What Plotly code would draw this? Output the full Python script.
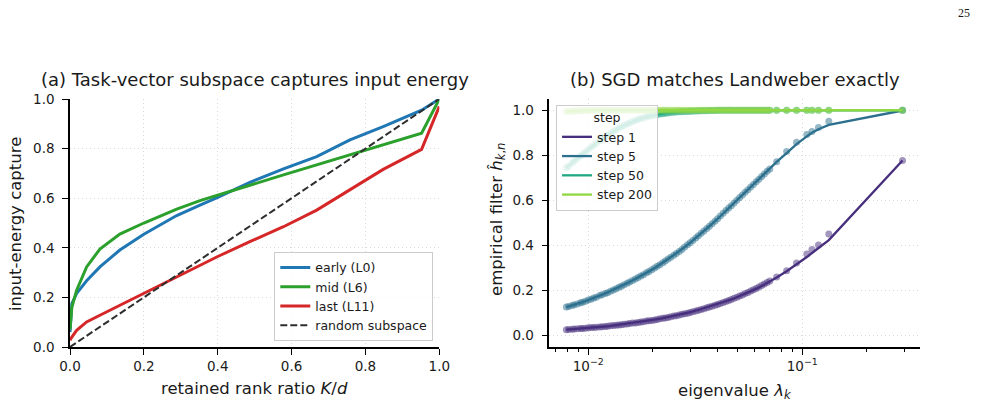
import plotly.graph_objects as go

# ---------------- Panel (a) data ----------------
rank_ratio = [0.0, 0.005, 0.018, 0.045, 0.081, 0.135, 0.2, 0.289, 0.352, 0.4,
              0.487, 0.578, 0.668, 0.758, 0.848, 0.952, 1.0]
early_L0 = [0.06, 0.175, 0.216, 0.267, 0.323, 0.391, 0.455, 0.53, 0.572, 0.603,
            0.664, 0.718, 0.768, 0.835, 0.889, 0.955, 1.0]
mid_L6 = [0.07, 0.16, 0.229, 0.323, 0.395, 0.455, 0.5, 0.556, 0.59, 0.613,
          0.652, 0.694, 0.734, 0.773, 0.813, 0.862, 1.0]
last_L11 = [0.027, 0.04, 0.067, 0.101, 0.128, 0.168, 0.215, 0.28, 0.328, 0.365,
            0.425, 0.485, 0.552, 0.633, 0.716, 0.797, 0.97]
random_x = [0.0, 1.0]
random_y = [0.0, 1.0]

# ---------------- Panel (b) data ----------------
step_labels = ["step 1", "step 5", "step 50", "step 200"]

# Landweber (theory) curves
eigenvalues = [0.0079, 0.0082, 0.0086, 0.0090, 0.0094, 0.0098, 0.0103, 0.0108, 0.0113, 0.0119,
               0.0125, 0.0132, 0.0139, 0.0147, 0.0155, 0.0164, 0.0174, 0.0184, 0.0195, 0.0207,
               0.0220, 0.0234, 0.0249, 0.0265, 0.0282, 0.0300, 0.0320, 0.0341, 0.0364, 0.0388,
               0.0414, 0.0442, 0.0472, 0.0504, 0.0538, 0.0575, 0.0615, 0.0660, 0.0700, 0.0759,
               0.0845, 0.0940, 0.1050, 0.1110, 0.1190, 0.1330, 0.2940]
landweber_step1 = [0.027, 0.028, 0.030, 0.031, 0.032, 0.034, 0.035, 0.037, 0.039, 0.041,
                   0.043, 0.046, 0.048, 0.051, 0.054, 0.057, 0.061, 0.064, 0.068, 0.073,
                   0.077, 0.082, 0.088, 0.093, 0.099, 0.105, 0.112, 0.120, 0.127, 0.135,
                   0.144, 0.153, 0.163, 0.174, 0.185, 0.197, 0.210, 0.225, 0.238, 0.258,
                   0.286, 0.316, 0.349, 0.367, 0.390, 0.424, 0.777]
landweber_step5 = [0.127, 0.131, 0.137, 0.143, 0.149, 0.155, 0.162, 0.170, 0.178, 0.186,
                   0.195, 0.205, 0.215, 0.226, 0.237, 0.249, 0.262, 0.275, 0.289, 0.304,
                   0.320, 0.338, 0.356, 0.374, 0.393, 0.413, 0.436, 0.458, 0.481, 0.505,
                   0.530, 0.556, 0.582, 0.608, 0.634, 0.661, 0.689, 0.717, 0.740, 0.771,
                   0.810, 0.850, 0.884, 0.900, 0.916, 0.935, 0.999]
landweber_step50 = [0.744, 0.758, 0.774, 0.790, 0.805, 0.819, 0.836, 0.851, 0.865, 0.880,
                    0.894, 0.908, 0.921, 0.933, 0.943, 0.953, 0.962, 0.969, 0.975, 0.980,
                    0.985, 0.988, 0.991, 0.993, 0.995, 0.996, 0.997, 0.998, 0.999, 0.999,
                    1.0, 1.0, 1.0, 1.0, 1.0, 1.0, 1.0, 1.0, 1.0, 1.0,
                    1.0, 1.0, 1.0, 1.0, 1.0, 1.0, 1.0]
landweber_step200 = [0.995, 0.996, 0.997, 0.998, 0.998, 0.999, 1.0, 1.0, 1.0, 1.0,
                     1.0, 1.0, 1.0, 1.0, 1.0, 1.0, 1.0, 1.0, 1.0, 1.0,
                     1.0, 1.0, 1.0, 1.0, 1.0, 1.0, 1.0, 1.0, 1.0, 1.0,
                     1.0, 1.0, 1.0, 1.0, 1.0, 1.0, 1.0, 1.0, 1.0, 1.0,
                     1.0, 1.0, 1.0, 1.0, 1.0, 1.0, 1.0]

# SGD (empirical) points
eigenvalues_sgd = [0.0079, 0.0081, 0.0084, 0.0086, 0.0089, 0.0092, 0.0094, 0.0097, 0.0100, 0.0103,
                   0.0106, 0.0109, 0.0113, 0.0116, 0.0120, 0.0123, 0.0127, 0.0131, 0.0135, 0.0139,
                   0.0143, 0.0147, 0.0152, 0.0156, 0.0161, 0.0166, 0.0171, 0.0176, 0.0181, 0.0187,
                   0.0192, 0.0198, 0.0204, 0.0210, 0.0216, 0.0223, 0.0229, 0.0236, 0.0243, 0.0251,
                   0.0258, 0.0266, 0.0274, 0.0282, 0.0291, 0.0299, 0.0308, 0.0318, 0.0327, 0.0337,
                   0.0347, 0.0358, 0.0368, 0.0379, 0.0391, 0.0402, 0.0414, 0.0427, 0.0440, 0.0453,
                   0.0466, 0.0480, 0.0495, 0.0510, 0.0525, 0.0541, 0.0557, 0.0574, 0.0591, 0.0609,
                   0.0627, 0.0646, 0.0665, 0.0685, 0.0705, 0.0759, 0.0845, 0.0940, 0.1050, 0.1110,
                   0.1190, 0.1330, 0.2940]
sgd_step1 = [0.027, 0.028, 0.029, 0.030, 0.031, 0.032, 0.032, 0.033, 0.035, 0.036,
             0.037, 0.038, 0.039, 0.040, 0.041, 0.042, 0.044, 0.045, 0.047, 0.048,
             0.049, 0.051, 0.052, 0.054, 0.056, 0.057, 0.059, 0.061, 0.062, 0.065,
             0.066, 0.068, 0.070, 0.072, 0.075, 0.077, 0.079, 0.081, 0.084, 0.087,
             0.089, 0.092, 0.095, 0.097, 0.100, 0.103, 0.106, 0.110, 0.113, 0.116,
             0.120, 0.124, 0.127, 0.131, 0.135, 0.139, 0.143, 0.147, 0.152, 0.156,
             0.161, 0.166, 0.171, 0.176, 0.181, 0.187, 0.192, 0.198, 0.204, 0.210,
             0.216, 0.223, 0.229, 0.236, 0.243, 0.261, 0.288, 0.323, 0.362, 0.383,
             0.402, 0.451, 0.777]
sgd_step5 = [0.127, 0.130, 0.134, 0.137, 0.141, 0.146, 0.149, 0.153, 0.158, 0.162,
             0.167, 0.171, 0.178, 0.182, 0.187, 0.191, 0.197, 0.203, 0.208, 0.215,
             0.220, 0.226, 0.233, 0.238, 0.245, 0.252, 0.258, 0.265, 0.271, 0.279,
             0.285, 0.293, 0.300, 0.308, 0.315, 0.324, 0.331, 0.340, 0.348, 0.357,
             0.365, 0.374, 0.383, 0.393, 0.403, 0.412, 0.422, 0.434, 0.444, 0.454,
             0.464, 0.476, 0.486, 0.497, 0.508, 0.519, 0.531, 0.543, 0.555, 0.566,
             0.577, 0.589, 0.601, 0.613, 0.624, 0.636, 0.648, 0.660, 0.671, 0.683,
             0.694, 0.706, 0.717, 0.729, 0.740, 0.772, 0.817, 0.858, 0.892, 0.906,
             0.924, 0.951, 1.000]
sgd_step50 = [0.744, 0.753, 0.766, 0.774, 0.786, 0.797, 0.805, 0.815, 0.826, 0.836,
              0.845, 0.854, 0.865, 0.872, 0.882, 0.889, 0.897, 0.906, 0.913, 0.921,
              0.927, 0.933, 0.939, 0.944, 0.950, 0.955, 0.959, 0.963, 0.966, 0.970,
              0.973, 0.976, 0.979, 0.981, 0.983, 0.985, 0.987, 0.988, 0.990, 0.991,
              0.992, 0.993, 0.994, 0.995, 0.995, 0.996, 0.996, 0.997, 0.997, 0.998,
              0.998, 0.998, 0.999, 0.999, 0.999, 1.0, 1.0, 1.0, 1.0, 1.0,
              1.0, 1.0, 1.0, 1.0, 1.0, 1.0, 1.0, 1.0, 1.0, 1.0,
              1.0, 1.0, 1.0, 1.0, 1.0, 1.0, 1.0, 1.0, 1.0, 1.0,
              1.0, 1.0, 1.0]
sgd_step200 = [0.995, 0.996, 0.996, 0.997, 0.998, 0.998, 0.998, 0.999, 0.999, 0.999,
               1.0, 1.0, 1.0, 1.0, 1.0, 1.0, 1.0, 1.0, 1.0, 1.0,
               1.0, 1.0, 1.0, 1.0, 1.0, 1.0, 1.0, 1.0, 1.0, 1.0,
               1.0, 1.0, 1.0, 1.0, 1.0, 1.0, 1.0, 1.0, 1.0, 1.0,
               1.0, 1.0, 1.0, 1.0, 1.0, 1.0, 1.0, 1.0, 1.0, 1.0,
               1.0, 1.0, 1.0, 1.0, 1.0, 1.0, 1.0, 1.0, 1.0, 1.0,
               1.0, 1.0, 1.0, 1.0, 1.0, 1.0, 1.0, 1.0, 1.0, 1.0,
               1.0, 1.0, 1.0, 1.0, 1.0, 1.0, 1.0, 1.0, 1.0, 1.0,
               1.0, 1.0, 1.0]

landweber = [landweber_step1, landweber_step5, landweber_step50, landweber_step200]
sgd = [sgd_step1, sgd_step5, sgd_step50, sgd_step200]
step_colors = ["#472f7d", "#2c708e", "#22a884", "#8fd744"]

FONT = "DejaVu Sans"
TXT = "#1a1a1a"

fig = go.Figure()

# Panel (a)
fig.add_trace(go.Scatter(x=rank_ratio, y=early_L0, mode="lines", name="early (L0)",
                         line=dict(color="#1f77b4", width=3), xaxis="x", yaxis="y", legend="legend"))
fig.add_trace(go.Scatter(x=rank_ratio, y=mid_L6, mode="lines", name="mid (L6)",
                         line=dict(color="#2ca02c", width=3), xaxis="x", yaxis="y", legend="legend"))
fig.add_trace(go.Scatter(x=rank_ratio, y=last_L11, mode="lines", name="last (L11)",
                         line=dict(color="#d62728", width=3), xaxis="x", yaxis="y", legend="legend"))
fig.add_trace(go.Scatter(x=random_x, y=random_y, mode="lines", name="random subspace",
                         line=dict(color="#2e2e2e", width=2, dash="7px,3px"),
                         xaxis="x", yaxis="y", legend="legend"))

# Panel (b)
for lab, col, hl, hs in zip(step_labels, step_colors, landweber, sgd):
    fig.add_trace(go.Scatter(x=eigenvalues_sgd, y=hs, mode="markers", showlegend=False,
                             marker=dict(color=col, size=7, opacity=0.5, line=dict(width=0)),
                             xaxis="x2", yaxis="y2"))
    fig.add_trace(go.Scatter(x=eigenvalues, y=hl, mode="lines", name=lab,
                             line=dict(color=col, width=2.3), xaxis="x2", yaxis="y2",
                             legend="legend2"))

axis_common = dict(showline=True, linecolor="black", linewidth=1.5, ticks="outside",
                   ticklen=6, tickwidth=1.3, tickcolor="black", showgrid=True,
                   gridcolor="#d9d9d9", griddash="1px,3px", gridwidth=1, zeroline=False,
                   tickfont=dict(family=FONT, size=13.5, color=TXT))

lin_ticks = [0.0, 0.2, 0.4, 0.6, 0.8, 1.0]
lin_text = ["0.0", "0.2", "0.4", "0.6", "0.8", "1.0"]

fig.update_layout(
    width=983, height=410,
    margin=dict(l=70, r=63, t=99, b=63),
    paper_bgcolor="white", plot_bgcolor="white",
    font=dict(family=FONT, color=TXT),
    xaxis=dict(domain=[0, 0.4345], range=[0, 1], tickvals=lin_ticks, ticktext=lin_text,
               anchor="y", **axis_common),
    yaxis=dict(domain=[0, 1], range=[0, 1], tickvals=lin_ticks, ticktext=lin_text,
               anchor="x", ticklabelstandoff=5, **axis_common),
    xaxis2=dict(domain=[0.5639, 1], type="log", range=[-2.182, -0.45],
                tickvals=[0.01, 0.1], ticktext=["10<sup>−2</sup>", "10<sup>−1</sup>"],
                anchor="y2",
                minor=dict(ticks="outside", ticklen=3.5, tickwidth=1, tickcolor="black",
                           showgrid=False,
                           tickvals=[0.007, 0.008, 0.009, 0.02, 0.03, 0.04, 0.05, 0.06,
                                     0.07, 0.08, 0.09, 0.2, 0.3]),
                **axis_common),
    yaxis2=dict(domain=[0, 1], range=[-0.05, 1.05], tickvals=lin_ticks, ticktext=lin_text,
                anchor="x2", ticklabelstandoff=5, **axis_common),
    legend=dict(x=0.4274, y=0.025, xanchor="right", yanchor="bottom",
                bgcolor="rgba(255,255,255,0.8)", bordercolor="#cccccc", borderwidth=1,
                font=dict(family=FONT, size=12.5, color=TXT), itemwidth=30,
                tracegroupgap=0),
    legend2=dict(x=0.5718, y=0.976, xanchor="left", yanchor="top",
                 bgcolor="rgba(255,255,255,0.8)", bordercolor="#cccccc", borderwidth=1,
                 font=dict(family=FONT, size=12.5, color=TXT), itemwidth=30,
                 title=dict(text="step", side="top center",
                            font=dict(family=FONT, size=12.5, color=TXT))),
    showlegend=True,
)

def px_x(px):
    return (px - 70) / 850.0

def px_y(py):
    return (347 - py) / 248.0

annots = [
    dict(text="(a) Task-vector subspace captures input energy", x=px_x(254.5), y=px_y(80),
         font=dict(size=18)),
    dict(text="(b) SGD matches Landweber exactly", x=px_x(734.5), y=px_y(80),
         font=dict(size=18)),
    dict(text="retained rank ratio <i>K</i>/<i>d</i>", x=px_x(254.5), y=px_y(388),
         font=dict(size=16.5)),
    dict(text="eigenvalue <i>λ</i><sub><i>k</i></sub>", x=px_x(734.5), y=px_y(391),
         font=dict(size=16.5)),
    dict(text="input-energy capture", x=px_x(15), y=px_y(224), textangle=-90,
         font=dict(size=16.5)),
    dict(text="empirical filter <i>ĥ</i><sub><i>k</i>,<i>n</i></sub>", x=px_x(497),
         y=px_y(220), textangle=-90, font=dict(size=16.5)),
    dict(text="25", x=px_x(964), y=px_y(13),
         font=dict(size=12, family="Liberation Serif")),
]
for a in annots:
    f = dict(family=FONT, color=TXT)
    f.update(a.pop("font"))
    fig.add_annotation(xref="paper", yref="paper", showarrow=False, xanchor="center",
                       yanchor="middle", font=f, **a)

fig.write_html("out.html")
